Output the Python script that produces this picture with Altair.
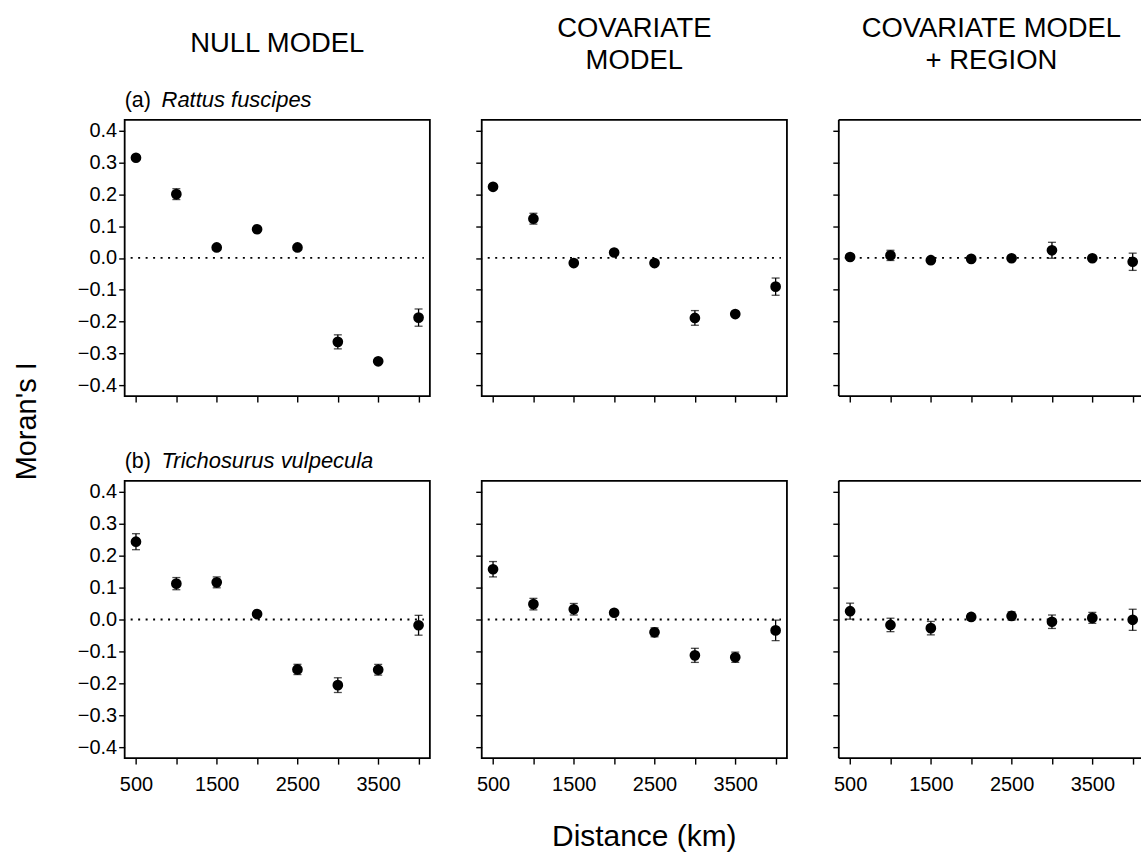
import altair as alt
import pandas as pd

distances = [500, 1000, 1500, 2000, 2500, 3000, 3500, 4000]
y_ticks = [-0.4, -0.3, -0.2, -0.1, 0.0, 0.1, 0.2, 0.3, 0.4]

column_titles = [["NULL MODEL"], ["COVARIATE", "MODEL"], ["COVARIATE MODEL", "+ REGION"]]
row_prefixes = ["(a)", "(b)"]
row_species = ["Rattus fuscipes", "Trichosurus vulpecula"]

# (a) Rattus fuscipes
a_null = [0.314, 0.200, 0.033, 0.090, 0.033, -0.263, -0.324, -0.187]
a_null_err = [0.006, 0.017, 0.006, 0.006, 0.006, 0.022, 0.006, 0.027]
a_cov = [0.223, 0.123, -0.016, 0.017, -0.016, -0.188, -0.176, -0.090]
a_cov_err = [0.006, 0.017, 0.006, 0.006, 0.006, 0.023, 0.006, 0.027]
a_reg = [0.003, 0.008, -0.007, -0.003, -0.001, 0.024, -0.001, -0.012]
a_reg_err = [0.006, 0.016, 0.006, 0.006, 0.006, 0.025, 0.006, 0.027]

# (b) Trichosurus vulpecula
b_null = [0.243, 0.112, 0.116, 0.017, -0.156, -0.205, -0.157, -0.018]
b_null_err = [0.025, 0.019, 0.017, 0.008, 0.016, 0.023, 0.017, 0.031]
b_cov = [0.157, 0.048, 0.032, 0.021, -0.040, -0.112, -0.118, -0.034]
b_cov_err = [0.024, 0.018, 0.018, 0.008, 0.014, 0.022, 0.016, 0.032]
b_reg = [0.026, -0.017, -0.027, 0.008, 0.011, -0.007, 0.005, -0.001]
b_reg_err = [0.025, 0.021, 0.021, 0.010, 0.013, 0.021, 0.017, 0.033]

series = [[(a_null, a_null_err), (a_cov, a_cov_err), (a_reg, a_reg_err)],
          [(b_null, b_null_err), (b_cov, b_cov_err), (b_reg, b_reg_err)]]

FONT = "Liberation Sans"
Y_DOMAIN = [-0.433, 0.433]
HEIGHTS = [277, 278]
one = pd.DataFrame({"k": [0]})


def text_layer(txt, x, y, size, **kw):
    return alt.Chart(one).mark_text(text=txt, fontSize=size, font=FONT, color="black",
                                    baseline="alphabetic", **kw).encode(
        x=alt.value(x), y=alt.value(y))


def panel(r, c):
    vals, errs = series[r][c]
    df = pd.DataFrame({
        "d": distances,
        "v": vals,
        "lo": [v - e for v, e in zip(vals, errs)],
        "hi": [v + e for v, e in zip(vals, errs)],
    })
    w = 306 if c < 2 else 301
    h = HEIGHTS[r]
    xdom = [360, 4140] if c < 2 else [360, 360 + 301 / 306 * 3780]
    xs = alt.Scale(domain=xdom, nice=False, zero=False)
    ys = alt.Scale(domain=Y_DOMAIN, nice=False, zero=False)
    xaxis = alt.Axis(values=distances, format="d", labels=(r == 1),
                     labelExpr="datum.value % 1000 == 500 ? datum.label : ''",
                     tickSize=6, tickWidth=1.4, tickColor="black", domain=False,
                     grid=False, title=None, labelFontSize=20, labelFont=FONT,
                     labelColor="black", labelPadding=10)
    yaxis = alt.Axis(values=y_ticks, format=".1f", labels=(c == 0),
                     tickSize=6, tickWidth=1.4, tickColor="black", domain=False,
                     grid=False, title=None, labelFontSize=20, labelFont=FONT,
                     labelColor="black", labelPadding=2)

    X = lambda f: alt.X(f, scale=xs, axis=xaxis)
    Y = lambda f: alt.Y(f, scale=ys, axis=yaxis)

    zero = alt.Chart(pd.DataFrame({"v": [0.0]})).mark_rule(
        color="black", strokeWidth=1.8, strokeDash=[2, 5.5]).encode(
        y=Y("v:Q"), x=alt.value(6), x2=alt.value(w - 6))
    bars = alt.Chart(df).mark_rule(color="black", strokeWidth=1.3).encode(
        x=X("d:Q"), y=Y("lo:Q"), y2="hi:Q")
    cap_lo = alt.Chart(df).mark_tick(color="black", orient="horizontal", size=8,
                                     thickness=1.3).encode(x=X("d:Q"), y=Y("lo:Q"))
    cap_hi = alt.Chart(df).mark_tick(color="black", orient="horizontal", size=8,
                                     thickness=1.3).encode(x=X("d:Q"), y=Y("hi:Q"))
    pts = alt.Chart(df).mark_circle(color="black", size=115, opacity=1).encode(
        x=X("d:Q"), y=Y("v:Q"))

    layers = [zero, bars, cap_lo, cap_hi, pts]

    if c == 2:
        for enc in [dict(x=alt.value(0), y=alt.value(0), y2=alt.value(h)),
                    dict(x=alt.value(0), x2=alt.value(w + 2), y=alt.value(0)),
                    dict(x=alt.value(0), x2=alt.value(w + 2), y=alt.value(h))]:
            layers.append(alt.Chart(one).mark_rule(color="black", strokeWidth=1.8).encode(**enc))

    if r == 0:
        lines = column_titles[c]
        if len(lines) == 1:
            layers.append(text_layer(lines[0], 153, -68.4, 27.5, align="center"))
        else:
            layers.append(text_layer(lines, 153, -82.7, 27.5, align="center", lineHeight=31.7))
    if c == 0:
        layers.append(text_layer(row_prefixes[r], 0, -12.7, 21.5, align="left"))
        layers.append(text_layer(row_species[r], 37, -12.7, 22, align="left",
                                 fontStyle="italic"))
    if r == 0 and c == 0:
        layers.append(text_layer("Moran's I", -89, 302.3, 29, align="center", angle=270))
    if r == 1 and c == 1:
        layers.append(text_layer("Distance (km)", 163, 366, 30, align="center"))

    view = alt.ViewBackground(stroke="black", strokeWidth=1.8) if c < 2 else \
        alt.ViewBackground(strokeWidth=0, strokeOpacity=0)
    return alt.layer(*layers).properties(width=w, height=h, view=view)


panels = [panel(r, c) for r in range(2) for c in range(3)]

chart = alt.concat(*panels, columns=3, spacing={"row": 85, "column": 52},
                   bounds="flush").properties(
    padding={"left": 12, "top": 13, "right": 0, "bottom": 0},
    background="white",
).configure(font=FONT)

chart.save("out.html", embed_options={"renderer": "svg", "actions": False})
